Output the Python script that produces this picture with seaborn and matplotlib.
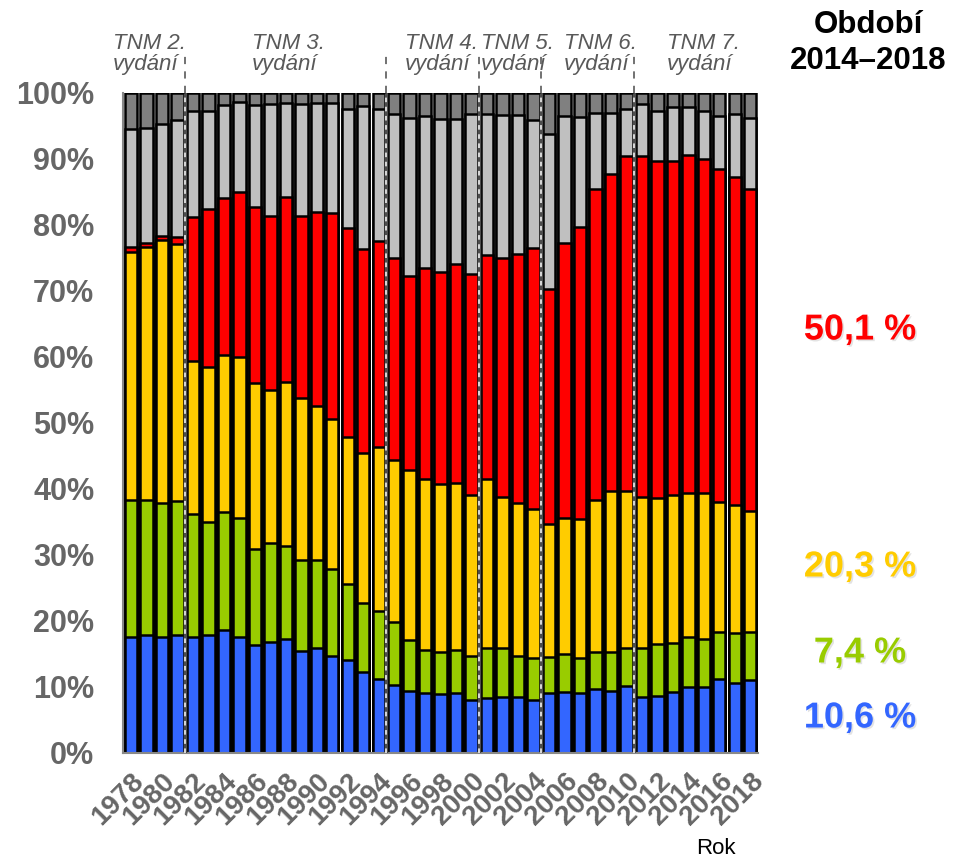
import numpy as np
import pandas as pd
import matplotlib
matplotlib.use("Agg")
import matplotlib.pyplot as plt
import matplotlib.patheffects as pe
import seaborn as sns

# shares (%) per year, 1978-2018 (bottom to top)
years = list(range(1978, 2019))
blue = [17.6, 17.9, 17.6, 17.8, 17.6, 17.9, 18.6, 17.6, 16.3, 16.7, 17.2, 15.4, 15.9, 14.6,
        14.1, 12.2, 11.2, 10.2, 9.4, 9.0, 8.9, 9.1, 8.0, 8.3, 8.5, 8.4, 8.0, 9.1, 9.2, 9.0,
        9.6, 9.4, 10.1, 8.5, 8.6, 9.2, 9.9, 9.9, 11.1, 10.6, 11.0]
green = [20.7, 20.4, 20.2, 20.4, 18.5, 17.0, 17.8, 18.0, 14.5, 15.1, 14.1, 13.8, 13.3, 13.3,
         11.4, 10.5, 10.3, 9.6, 7.7, 6.5, 6.4, 6.4, 6.6, 7.5, 7.3, 6.2, 6.4, 5.4, 5.7, 5.4,
         5.7, 5.9, 5.7, 7.4, 7.8, 7.4, 7.7, 7.4, 7.2, 7.5, 7.3]
yellow = [37.5, 38.3, 39.9, 38.9, 23.2, 23.5, 23.8, 24.3, 25.2, 23.2, 24.8, 24.6, 23.4, 22.6,
          22.4, 22.7, 24.8, 24.5, 25.8, 26.0, 25.4, 25.3, 24.4, 25.6, 22.9, 23.2, 22.5, 20.1,
          20.7, 21.0, 23.0, 24.4, 23.8, 22.9, 22.2, 22.5, 21.7, 22.0, 19.7, 19.4, 18.3]
red = [0.8, 0.6, 0.6, 1.1, 21.8, 24.0, 23.8, 25.1, 26.7, 26.3, 28.1, 27.5, 29.4, 31.3,
       31.6, 30.9, 31.2, 30.7, 29.3, 31.9, 32.2, 33.2, 33.6, 34.0, 36.2, 37.7, 39.6, 35.7,
       41.6, 44.3, 47.1, 48.0, 50.8, 51.6, 51.1, 50.6, 51.3, 50.6, 50.4, 49.7, 48.8]
light_gray = [17.9, 17.4, 17.0, 17.7, 16.1, 14.8, 14.2, 13.6, 15.5, 17.0, 14.3, 17.0, 16.4, 16.6,
              18.0, 21.7, 20.0, 21.8, 23.9, 23.1, 23.1, 22.0, 24.2, 21.4, 21.7, 21.1, 19.4, 23.4,
              19.3, 16.6, 11.5, 9.3, 7.1, 7.9, 7.6, 8.2, 7.3, 7.4, 8.1, 9.5, 10.7]
dark_gray = [5.5, 5.4, 4.7, 4.1, 2.8, 2.8, 1.8, 1.4, 1.8, 1.7, 1.5, 1.7, 1.6, 1.6,
             2.5, 2.0, 2.5, 3.2, 3.9, 3.5, 4.0, 4.0, 3.2, 3.2, 3.4, 3.4, 4.1, 6.3,
             3.5, 3.7, 3.1, 3.0, 2.5, 1.7, 2.7, 2.1, 2.1, 2.7, 3.5, 3.3, 3.9]

layer_colors = ["#3366FF", "#99CC00", "#FFCC00", "#FF0000", "#C0C0C0", "#808080"]

# TNM editions: boundaries between bars and label texts
edition_breaks = [1981.5, 1994.5, 2000.5, 2004.5, 2010.5]
edition_labels = ["TNM 2.", "TNM 3.", "TNM 4.", "TNM 5.", "TNM 6.", "TNM 7."]
edition_label_x = [1976.84, 1985.82, 1995.7, 2000.6, 2005.97, 2012.6]

summary_labels = ["50,1 %", "20,3 %", "7,4 %", "10,6 %"]
summary_colors = ["#FF0000", "#FFCC00", "#99CC00", "#3366FF"]
summary_y = [330, 567, 653, 718]

sns.set_style("white")
plt.rcParams["font.family"] = ["Liberation Sans", "DejaVu Sans"]

df = pd.DataFrame({"year": [str(y) for y in years]})
stack = np.cumsum(np.array([blue, green, yellow, red, light_gray, dark_gray]), axis=0)

fig = plt.figure(figsize=(9.55, 8.59), dpi=100)
ax = fig.add_axes([123.3 / 955, 1 - 752.7 / 859, 634.7 / 955, 660 / 859])

# draw tallest stack first, then each lower cumulative layer on top
for i in range(len(layer_colors) - 1, -1, -1):
    df["top"] = stack[i]
    sns.barplot(data=df, x="year", y="top", color=layer_colors[i], saturation=1,
                width=0.8, edgecolor="black", linewidth=1.8, errorbar=None, ax=ax)

ax.set_xlim(-0.5, 40.5)
ax.set_ylim(0, 100)
ax.set_xlabel("")
ax.set_ylabel("")

gray = "#666666"
ax.set_xticks(range(0, 41, 2))
ax.set_xticklabels([str(y) for y in years[::2]], rotation=45, ha="right",
                   rotation_mode="anchor", fontsize=20, fontweight="bold", color=gray)
ax.set_xticks(np.arange(-0.5, 41, 1), minor=True)
ax.tick_params(axis="x", which="major", length=0, pad=11)
ax.tick_params(axis="x", which="minor", length=7, width=1.2, color="#888888", direction="out")

ax.set_yticks(range(0, 101, 10))
ax.set_yticklabels([f"{v}%" for v in range(0, 101, 10)], fontsize=22,
                   fontweight="bold", color=gray)
ax.tick_params(axis="y", length=7, width=1.2, color="#888888", direction="out", pad=14)

sns.despine(ax=ax, top=True, right=True)
for s in ["left", "bottom"]:
    ax.spines[s].set_color("#888888")
    ax.spines[s].set_linewidth(1.5)

for b in edition_breaks:
    xb = b - years[0]
    ax.vlines(xb, 0, 100, colors="#4d4d4d", lw=2.4, zorder=5)
    ax.vlines(xb, 0, 100, colors="white", lw=1.1, linestyles=(0, (3, 3)), zorder=6)
    ax.vlines(xb, 100, 106.5, colors="#666666", lw=1.3, linestyles=(0, (4, 4)),
              clip_on=False, zorder=6)

for lab, xl in zip(edition_labels, edition_label_x):
    ax.text(xl - years[0], 107.5, lab, ha="left", va="center", fontsize=16,
            style="italic", color="#595959", clip_on=False)
    ax.text(xl - years[0], 104.3, "vydání", ha="left", va="center", fontsize=16,
            style="italic", color="#595959", clip_on=False)

fig.text(868 / 955, 1 - 25 / 859, "Období", ha="center", va="center",
         fontsize=22.5, fontweight="bold", color="black")
fig.text(868 / 955, 1 - 61 / 859, "2014–2018", ha="center", va="center",
         fontsize=22.5, fontweight="bold", color="black")

shadow = [pe.withSimplePatchShadow(offset=(1.2, -1.2), shadow_rgbFace="#b0b0b0", alpha=0.35)]
for lab, col, yp in zip(summary_labels, summary_colors, summary_y):
    fig.text(860 / 955, 1 - yp / 859, lab, ha="center", va="center", fontsize=26,
             fontweight="bold", color=col, path_effects=shadow)

fig.text(716 / 955, 1 - 849 / 859, "Rok", ha="center", va="center", fontsize=16, color="black")

fig.savefig("out.png", dpi=100)
